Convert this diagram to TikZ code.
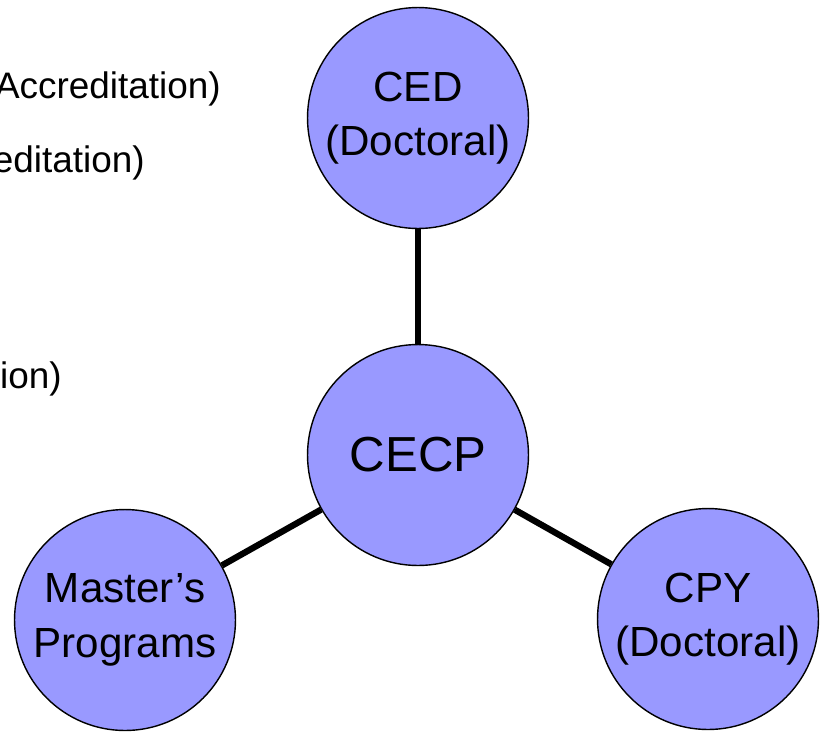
\documentclass[tikz,border=0pt]{standalone}
\usepackage{fontspec}
\setmainfont{Liberation Sans}
\definecolor{lilac}{HTML}{9999FF}
\tikzset{
	unit/.style = {circle, draw = black, line width = 0.8pt, fill = lilac, minimum size = 4.42cm, inner sep = 0pt, align = center, font = \fontsize{24}{31}\selectfont},
	link/.style = {line width = 3.6pt},
	side/.style = {anchor = base east, inner sep = 0pt, font = \fontsize{21}{25}\selectfont}
}
\begin{document}
\begin{tikzpicture}[x = 0.02cm, y = -0.02cm]
	\useasboundingbox (0,0) rectangle (827,731);

	\node[side] (acc) at (221,98)  {Accreditation)};
	\node[side] (edi) at (145,172) {editation)};
	\node[side] (ion) at (62,388)  {ion)};

	\node[unit] (ced)  at (418,118) {CED\\(Doctoral)};
	\node[unit, font = \fontsize{28}{33}\selectfont] (cecp) at (418,455) {CECP};
	\node[unit] (mas)  at (125,620) {Master’s\\Programs};
	\node[unit] (cpy)  at (708,619) {CPY\\(Doctoral)};

	\draw[link] (cecp) -- (ced);
	\draw[link] (cecp) -- (mas);
	\draw[link] (cecp) -- (cpy);
\end{tikzpicture}
\end{document}
